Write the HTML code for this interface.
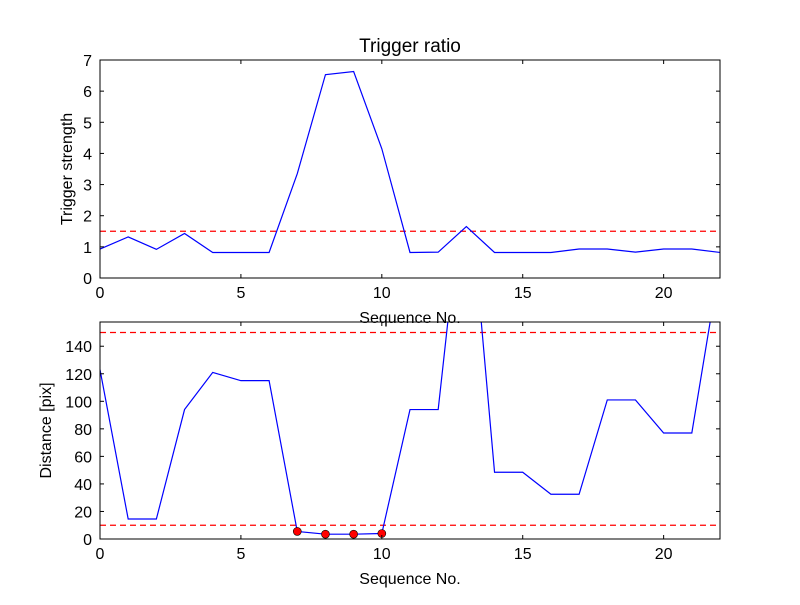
<!DOCTYPE html>
<html><head><meta charset="utf-8"><style>body{margin:0;background:#fff}svg text{font-family:"Liberation Sans",sans-serif;}</style></head>
<body>
<svg id="c" width="800" height="600" viewBox="0 0 800 600">
<rect width="800" height="600" fill="#fff"/>
<defs>
<clipPath id="cp1"><rect x="100" y="60" width="620" height="218"/></clipPath>
<clipPath id="cp2"><rect x="100" y="322" width="620" height="217"/></clipPath>
</defs>
<g id="g1"></g>
<g id="g2"></g>
</svg>
<script>
const seq = [0,1,2,3,4,5,6,7,8,9,10,11,12,13,14,15,16,17,18,19,20,21,22];
const triggerStrength = [0.93,1.32,0.92,1.43,0.82,0.82,0.82,3.35,6.53,6.63,4.15,0.82,0.83,1.65,0.82,0.82,0.82,0.93,0.93,0.83,0.93,0.93,0.82];
const distance = [123,14.5,14.5,94,121,115,115,5.5,3.5,3.5,4,94,94,280,48.5,48.5,32.5,32.5,101,101,77,77,201];
const xTicks = [0,5,10,15,20];
const yTicksTop = [0,1,2,3,4,5,6,7];
const yTicksBottom = [0,20,40,60,80,100,120,140];
const triggerThreshold = [1.5];
const distanceThresholds = [10,150];
const markerLimit = 10;

const NS="http://www.w3.org/2000/svg";
function mk(p,t,a){const e=document.createElementNS(NS,t);for(const k in a)e.setAttribute(k,a[k]);p.appendChild(e);return e;}
function panel(g,top,bot,ymax,vals,yt,thr,clip,ylabel,title,markers){
  const L=100,R=720;
  const sx=v=>L+(v-0)/(22-0)*(R-L);
  const sy=v=>bot-(v/ymax)*(bot-top);
  for(const t of thr){
    const l=mk(g,'line',{x1:L,x2:R,y1:sy(t),y2:sy(t),stroke:'#ff0000','stroke-width':1.2,'stroke-dasharray':'6,4'});
    
    
  }
  const pts=vals.map((v,i)=>sx(seq[i])+','+sy(v)).join(' ');
  const pl=mk(g,'polyline',{points:pts,fill:'none',stroke:'#0000ff','stroke-width':1.2,'clip-path':'url(#'+clip+')'});
  
  
  if(markers){vals.forEach((v,i)=>{if(v<markerLimit){
    const c=mk(g,'circle',{cx:sx(seq[i]),cy:sy(v),r:4,fill:'#ff0000',stroke:'#000','stroke-width':0.6});
    
    
  }});}
  const fr=mk(g,'rect',{x:L,y:top,width:R-L,height:bot-top,fill:'none',stroke:'#000','stroke-width':1});
  
  
  for(const t of xTicks){const x=sx(t);
    mk(g,'line',{x1:x,x2:x,y1:bot,y2:bot-4,stroke:'#000'});mk(g,'line',{x1:x,x2:x,y1:top,y2:top+4,stroke:'#000'});
    const tx=mk(g,'text',{x:x,y:bot+20,'text-anchor':'middle','font-size':16});tx.textContent=t;
    
    
  }
  for(const t of yt){const y=sy(t);
    mk(g,'line',{x1:L,x2:L+4,y1:y,y2:y,stroke:'#000'});mk(g,'line',{x1:R,x2:R-4,y1:y,y2:y,stroke:'#000'});
    const tx=mk(g,'text',{x:L-8,y:y+6,'text-anchor':'end','font-size':16});tx.textContent=t;
    
    
  }
  const xl=mk(g,'text',{x:410,y:bot+45,'text-anchor':'middle','font-size':16});xl.textContent='Sequence No.';
  
  
  const cy=(top+bot)/2;
  const yl=mk(g,'text',{x:0,y:0,'text-anchor':'middle','font-size':16,transform:'translate('+(ylabel[1])+','+cy+') rotate(-90)'});yl.textContent=ylabel[0];
  
  
  if(title){const ti=mk(g,'text',{x:410,y:top-8,'text-anchor':'middle','font-size':19});ti.textContent=title;
    
    }
}
panel(document.getElementById('g1'),60,278,7,triggerStrength,yTicksTop,triggerThreshold,'cp1',['Trigger strength',72],'Trigger ratio',false);
panel(document.getElementById('g2'),322,539,157.6,distance,yTicksBottom,distanceThresholds,'cp2',['Distance [pix]',51],null,true);
</script>
</body></html>
